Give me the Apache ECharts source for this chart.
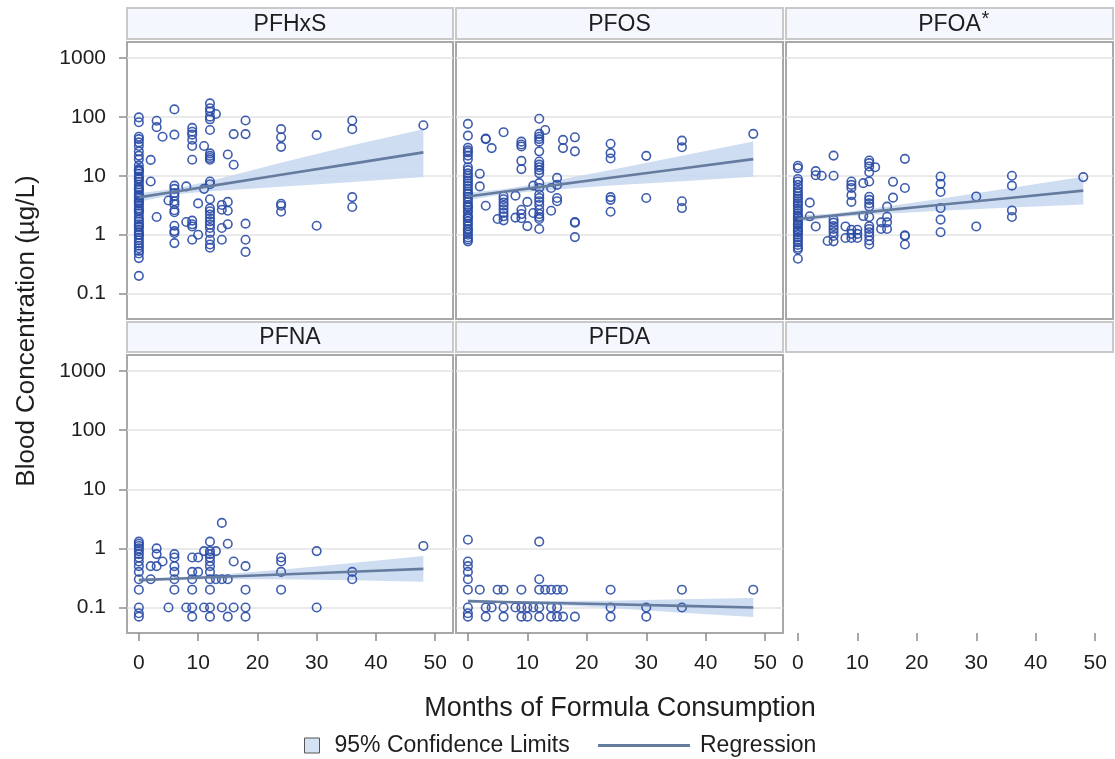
<!DOCTYPE html>
<html>
<head>
<meta charset="utf-8">
<script src="https://cdn.jsdelivr.net/npm/echarts@6/dist/echarts.min.js"></script>
<style>
html,body{margin:0;padding:0;background:#fff;}
#chart{width:1115px;height:759px;}
</style>
</head>
<body>
<div id="chart"></div>
<script>
// ---------- DATA ----------
const panelNames = ['PFHxS', 'PFOS', 'PFOA', 'PFNA', 'PFDA'];
const xTickValues = [0, 10, 20, 30, 40, 50];
const yTickValues = [0.1, 1, 10, 100, 1000];
const xTitle = 'Months of Formula Consumption';
const yTitle = 'Blood Concentration (µg/L)';
const bandLabel = '95% Confidence Limits';
const fitLabel = 'Regression';

// observations grouped by months of formula consumption: [month, [values in µg/L]]
const pfhxsByMonth = [
  [0, [98, 81, 46, 42, 37, 32, 26, 22, 19, 15, 13, 12.5, 12, 10.8, 9.7, 9, 8.8, 7.9, 7.1, 6.4, 6, 5.8, 5.2, 4.7, 4.5, 4.2, 3.8, 3.6, 3.4, 3.1, 2.8, 2.6, 2.5, 2.3, 2, 1.8, 1.66, 1.5, 1.4, 1.35, 1.2, 1.1, 1, 1, 0.89, 0.8, 0.72, 0.65, 0.59, 0.53, 0.48, 0.4, 0.2]],
  [2, [18.6, 8]],
  [3, [86, 67, 2]],
  [4, [46]],
  [5, [3.8]],
  [6, [134, 50, 6.8, 6, 5.1, 4.5, 3.7, 3.3, 2.6, 2.4, 1.42, 1.15, 1.07, 0.72]],
  [8, [6.6, 1.64]],
  [9, [65, 56, 50, 41, 32, 18.7, 1.73, 1.5, 1.38, 0.82]],
  [10, [3.4, 1]],
  [11, [32, 6]],
  [12, [170, 140, 123, 101, 91, 60, 24, 21.8, 20, 18.7, 8, 7.2, 4, 2.8, 2.5, 2.2, 1.9, 1.68, 1.48, 1.3, 1.07, 0.82, 0.68, 0.6]],
  [13, [112]],
  [14, [3.2, 2.65, 1.3, 0.82]],
  [15, [23, 3.6, 2.55, 1.5]],
  [16, [51, 15.4]],
  [18, [87, 51, 1.54, 0.82, 0.51]],
  [24, [62, 45, 31, 3.35, 3.1, 2.45]],
  [30, [49, 1.42]],
  [36, [87, 62, 4.35, 2.95]],
  [48, [72]]
];
const pfosByMonth = [
  [0, [76, 48, 30, 27, 25, 22, 19, 14, 12.5, 11, 10, 9, 8.2, 7.4, 6.7, 6, 5.4, 5, 4.9, 4.4, 4, 3.6, 3.2, 3, 2.9, 2.6, 2.4, 2.1, 2, 1.9, 1.7, 1.55, 1.4, 1.25, 1.2, 1.1, 1, 0.9, 0.83, 0.77]],
  [2, [10.8, 6.6]],
  [3, [43, 42, 3.1]],
  [4, [29.5]],
  [5, [1.85]],
  [6, [55, 4.5, 4, 3.5, 3.1, 2.7, 2.35, 2.05, 1.75]],
  [8, [4.6, 1.95]],
  [9, [38, 34, 31.5, 17.9, 13, 2.65, 2.24, 1.9]],
  [10, [3.6, 1.4]],
  [11, [6.8, 2.33]],
  [12, [93, 51.5, 46, 42, 38, 26, 17.5, 15.5, 14, 12.5, 11, 7.5, 6.2, 4.8, 4.2, 3.7, 3.2, 2.65, 2.24, 2, 1.85, 1.25]],
  [13, [60]],
  [14, [6.2, 2.55]],
  [15, [9.2, 7, 4.2, 3.7]],
  [16, [40.7, 29.5]],
  [18, [45, 26, 1.64, 1.6, 0.91]],
  [24, [35, 24.3, 19.7, 4.35, 3.9, 2.45]],
  [30, [21.8, 4.2]],
  [36, [39.5, 30.6, 3.7, 2.83]],
  [48, [51.5]]
];
const pfoaByMonth = [
  [0, [14.8, 13.5, 8.8, 8, 7, 6.2, 5.5, 5, 4.5, 4.1, 3.7, 3.4, 3.1, 2.8, 2.55, 2.3, 2.1, 2, 1.9, 1.75, 1.6, 1.5, 1.45, 1.3, 1.2, 1.15, 1.1, 1, 0.9, 0.82, 0.74, 0.67, 0.6, 0.56, 0.39]],
  [2, [3.5, 2.05]],
  [3, [12, 10.2, 1.38]],
  [4, [10]],
  [5, [0.78]],
  [6, [22, 10, 1.8, 1.6, 1.4, 1.25, 1.1, 0.95, 0.77]],
  [8, [1.38, 0.88]],
  [9, [8, 7, 6.2, 4.7, 3.6, 1.21, 1.03, 0.88]],
  [10, [1.21, 1.03, 0.88]],
  [11, [7.5, 2.07]],
  [12, [18.2, 16.4, 14.4, 11.5, 8, 4.4, 3.9, 3.4, 3, 2, 1.4, 1.25, 1.1, 0.95, 0.8, 0.68]],
  [13, [14]],
  [14, [1.62, 1.25]],
  [15, [3, 2.02, 1.62, 1.25]],
  [16, [7.9, 4.25]],
  [18, [19.4, 6.2, 0.98, 0.95, 0.68]],
  [24, [9.7, 7.3, 5.3, 2.83, 1.8, 1.1]],
  [30, [4.46, 1.38]],
  [36, [10, 6.8, 2.58, 2]],
  [48, [9.5]]
];
const pfnaByMonth = [
  [0, [1.3, 1.2, 1.1, 1, 0.9, 0.8, 0.7, 0.6, 0.5, 0.4, 0.3, 0.2, 0.1, 0.08, 0.07]],
  [2, [0.5, 0.3]],
  [3, [1, 0.8, 0.5]],
  [4, [0.6]],
  [5, [0.1]],
  [6, [0.8, 0.7, 0.5, 0.4, 0.3, 0.2]],
  [8, [0.1]],
  [9, [0.7, 0.4, 0.3, 0.2, 0.1, 0.07]],
  [10, [0.7, 0.4]],
  [11, [0.9, 0.1]],
  [12, [1.3, 0.9, 0.8, 0.7, 0.6, 0.5, 0.4, 0.3, 0.2, 0.1, 0.07]],
  [13, [0.9, 0.3]],
  [14, [2.7, 0.3, 0.1]],
  [15, [1.2, 0.3, 0.07]],
  [16, [0.6, 0.1]],
  [18, [0.5, 0.2, 0.1, 0.07]],
  [24, [0.7, 0.6, 0.4, 0.2]],
  [30, [0.9, 0.1]],
  [36, [0.4, 0.3]],
  [48, [1.1]]
];
const pfdaByMonth = [
  [0, [1.4, 0.6, 0.5, 0.4, 0.3, 0.2, 0.1, 0.08, 0.07]],
  [2, [0.2]],
  [3, [0.1, 0.07]],
  [4, [0.1]],
  [5, [0.2]],
  [6, [0.2, 0.1, 0.07]],
  [8, [0.1]],
  [9, [0.2, 0.1, 0.07]],
  [10, [0.1, 0.07]],
  [11, [0.1]],
  [12, [1.3, 0.3, 0.2, 0.1, 0.07]],
  [13, [0.2]],
  [14, [0.2, 0.1, 0.07]],
  [15, [0.2, 0.1, 0.07]],
  [16, [0.2, 0.07]],
  [18, [0.07]],
  [24, [0.2, 0.1, 0.07]],
  [30, [0.1, 0.07]],
  [36, [0.2, 0.1]],
  [48, [0.2]]
];

// regression fit and 95% confidence limits at these months
const fitMonths = [0, 6, 12, 24, 36, 48];
const pfhxsFit   = [4.3, 5.36, 6.68, 10.4, 16.1, 25];
const pfhxsUpper = [5.07, 6.0, 8.15, 16.6, 33, 62];
const pfhxsLower = [3.64, 4.79, 5.48, 6.5, 7.85, 9.5];
const pfosFit    = [4.46, 5.35, 6.42, 9.25, 13.3, 19.2];
const pfosUpper  = [5.13, 5.89, 7.38, 12.5, 21.9, 38.4];
const pfosLower  = [3.88, 4.86, 5.58, 6.85, 8.06, 9.6];
const pfoaFit    = [1.85, 2.12, 2.44, 3.22, 4.25, 5.6];
const pfoaUpper  = [2.09, 2.29, 2.73, 4.09, 6.25, 9.63];
const pfoaLower  = [1.64, 1.96, 2.18, 2.54, 2.89, 3.26];
const pfnaFit    = [0.29, 0.306, 0.324, 0.361, 0.403, 0.45];
const pfnaUpper  = [0.313, 0.321, 0.35, 0.433, 0.564, 0.743];
const pfnaLower  = [0.269, 0.291, 0.3, 0.301, 0.288, 0.273];
const pfdaFit    = [0.128, 0.124, 0.1205, 0.1132, 0.1064, 0.10];
const pfdaUpper  = [0.137, 0.129, 0.129, 0.130, 0.138, 0.145];
const pfdaLower  = [0.120, 0.119, 0.113, 0.0984, 0.0818, 0.069];

// ---------- LAYOUT / STYLE ----------
const FONT = '"Liberation Sans", Arial, Helvetica, sans-serif';
const TEXT = '#1e1e1e';
const MARK = '#2A4BA6';
const FITC = '#667C9F';
const BANDC = '#C6D7EE';
const colLeft = [127, 456, 786];
const colWidth = [326, 327, 327];
const rowTop = [42, 355];
const rowHeight = [277, 278];
const stripTop = [8, 322];
const stripHeight = [31, 30];

function flatten(byMonth) {
  const out = [];
  byMonth.forEach(function (g) { g[1].forEach(function (v) { out.push([g[0], v]); }); });
  return out;
}

const panels = [
  { name: 'PFHxS', pts: pfhxsByMonth, fit: pfhxsFit, up: pfhxsUpper, lo: pfhxsLower, row: 0, col: 0 },
  { name: 'PFOS',  pts: pfosByMonth,  fit: pfosFit,  up: pfosUpper,  lo: pfosLower,  row: 0, col: 1 },
  { name: 'PFOA',  pts: pfoaByMonth,  fit: pfoaFit,  up: pfoaUpper,  lo: pfoaLower,  row: 0, col: 2 },
  { name: 'PFNA',  pts: pfnaByMonth,  fit: pfnaFit,  up: pfnaUpper,  lo: pfnaLower,  row: 1, col: 0 },
  { name: 'PFDA',  pts: pfdaByMonth,  fit: pfdaFit,  up: pfdaUpper,  lo: pfdaLower,  row: 1, col: 1 }
];

const grids = [], xAxes = [], yAxes = [], series = [], graphics = [];

function addStrip(row, col, label) {
  graphics.push({
    type: 'rect', silent: true, z: 10,
    shape: { x: colLeft[col], y: stripTop[row], width: colWidth[col], height: stripHeight[row] },
    style: { fill: '#F5F7FE', stroke: '#C9C9C9', lineWidth: 2 }
  });
  if (label) {
    graphics.push({
      type: 'text', silent: true, z: 11,
      x: colLeft[col] + colWidth[col] / 2, y: stripTop[row] + stripHeight[row] / 2 + 1,
      style: { text: label, font: '23px ' + FONT, fill: TEXT, textAlign: 'center', textVerticalAlign: 'middle' }
    });
  }
}

panels.forEach(function (p, i) {
  grids.push({
    left: colLeft[p.col], top: rowTop[p.row], width: colWidth[p.col], height: rowHeight[p.row],
    show: true, borderColor: '#A8A8A8', borderWidth: 2, backgroundColor: '#fff',
    outerBoundsMode: 'none', containLabel: false
  });
  const showX = p.row === 1;
  xAxes.push({
    gridIndex: i, type: 'value', min: -2, max: 53, position: 'bottom',
    axisLine: { show: false, onZero: false },
    axisTick: { show: showX, inside: false, length: 8, lineStyle: { color: '#8c8c8c', width: 1.5 }, customValues: xTickValues },
    axisLabel: { show: showX, customValues: xTickValues, fontSize: 21, fontFamily: FONT, color: TEXT, margin: 20 },
    splitLine: { show: false }
  });
  const showY = p.col === 0;
  yAxes.push({
    gridIndex: i, type: 'log', logBase: 10, min: 0.037, max: 1870, position: 'left',
    axisLine: { show: false, onZero: false },
    axisTick: { show: showY, inside: false, length: 8, lineStyle: { color: '#8c8c8c', width: 1.5 }, customValues: yTickValues },
    axisLabel: { show: showY, customValues: yTickValues, fontSize: 21, fontFamily: FONT, color: TEXT, margin: 21,
      formatter: function (v) { return String(v); } },
    splitLine: { show: true, lineStyle: { color: '#E3E3E3', width: 1.5 } }
  });

  const bandUp = p.up, bandLo = p.lo;
  series.push({
    name: bandLabel, type: 'custom', xAxisIndex: i, yAxisIndex: i, z: 1, silent: true, clip: true,
    itemStyle: { color: BANDC },
    data: [[fitMonths[0], p.fit[0]]],
    renderItem: function (params, api) {
      if (params.dataIndex !== 0) return null;
      const pts = [];
      for (let k = 0; k < fitMonths.length; k++) pts.push(api.coord([fitMonths[k], bandUp[k]]));
      for (let k = fitMonths.length - 1; k >= 0; k--) pts.push(api.coord([fitMonths[k], bandLo[k]]));
      return { type: 'polygon', shape: { points: pts }, style: { fill: BANDC, opacity: 0.85 } };
    }
  });
  series.push({
    name: p.name + ' observations', type: 'scatter', xAxisIndex: i, yAxisIndex: i, z: 3, silent: true,
    symbol: 'circle', symbolSize: 8.5,
    itemStyle: { color: 'rgba(0,0,0,0)', borderColor: MARK, borderWidth: 1.6, opacity: 0.9 },
    data: flatten(p.pts)
  });
  series.push({
    name: fitLabel, type: 'line', xAxisIndex: i, yAxisIndex: i, z: 4, silent: true,
    showSymbol: false, symbol: 'none',
    lineStyle: { color: FITC, width: 2.6 },
    data: fitMonths.map(function (m, k) { return [m, p.fit[k]]; })
  });
  addStrip(p.row, p.col, p.name === 'PFOA' ? null : p.name);
});

// empty bottom-right cell (only its x axis is shown)
grids.push({ left: colLeft[2], top: rowTop[1], width: colWidth[2], height: rowHeight[1], show: false, outerBoundsMode: 'none' });
xAxes.push({
  gridIndex: 5, type: 'value', min: -2, max: 53, position: 'bottom',
  axisLine: { show: false, onZero: false },
  axisTick: { show: true, length: 8, lineStyle: { color: '#8c8c8c', width: 1.5 }, customValues: xTickValues },
  axisLabel: { show: true, customValues: xTickValues, fontSize: 21, fontFamily: FONT, color: TEXT, margin: 20 },
  splitLine: { show: false }
});
yAxes.push({ gridIndex: 5, type: 'value', show: false, min: 0, max: 1, axisLine: { onZero: false } });
addStrip(1, 2, null);

// PFOA header with superscript asterisk
graphics.push({
  type: 'text', silent: true, z: 11,
  x: colLeft[2] + colWidth[2] / 2, y: stripTop[0] + stripHeight[0] / 2 + 1,
  style: { text: 'PFOA', font: '23px ' + FONT, fill: TEXT, textAlign: 'center', textVerticalAlign: 'middle' }
});
graphics.push({
  type: 'text', silent: true, z: 11,
  x: colLeft[2] + colWidth[2] / 2 + 32, y: stripTop[0] + 1,
  style: { text: '*', font: '20px ' + FONT, fill: TEXT, textAlign: 'left', textVerticalAlign: 'top' }
});

// axis titles
graphics.push({
  type: 'text', silent: true, x: 620, y: 709,
  style: { text: xTitle, font: '27px ' + FONT, fill: TEXT, textAlign: 'center', textVerticalAlign: 'middle' }
});
graphics.push({
  type: 'text', silent: true, x: 27, y: 331, rotation: Math.PI / 2,
  style: { text: yTitle, font: '26px ' + FONT, fill: TEXT, textAlign: 'center', textVerticalAlign: 'middle' }
});

const option = {
  animation: false,
  backgroundColor: '#fff',
  textStyle: { fontFamily: FONT },
  grid: grids,
  xAxis: xAxes,
  yAxis: yAxes,
  legend: [
    {
      left: 304, top: 734, padding: 0, itemWidth: 15, itemHeight: 15, selectedMode: false,
      data: [{ name: bandLabel, icon: 'rect', itemStyle: { color: '#D5E2F3', borderColor: '#555', borderWidth: 1 } }],
      textStyle: { fontSize: 23, fontFamily: FONT, color: TEXT, padding: [0, 0, 0, 10] }
    },
    {
      left: 598, top: 734, padding: 0, itemWidth: 92, itemHeight: 3, selectedMode: false,
      data: [{ name: fitLabel, icon: 'rect', itemStyle: { color: FITC } }],
      textStyle: { fontSize: 23, fontFamily: FONT, color: TEXT, padding: [0, 0, 0, 5] }
    }
  ],
  graphic: graphics,
  series: series
};

const chart = echarts.init(document.getElementById('chart'), null, { renderer: 'canvas' });
chart.setOption(option);
</script>
</body>
</html>
